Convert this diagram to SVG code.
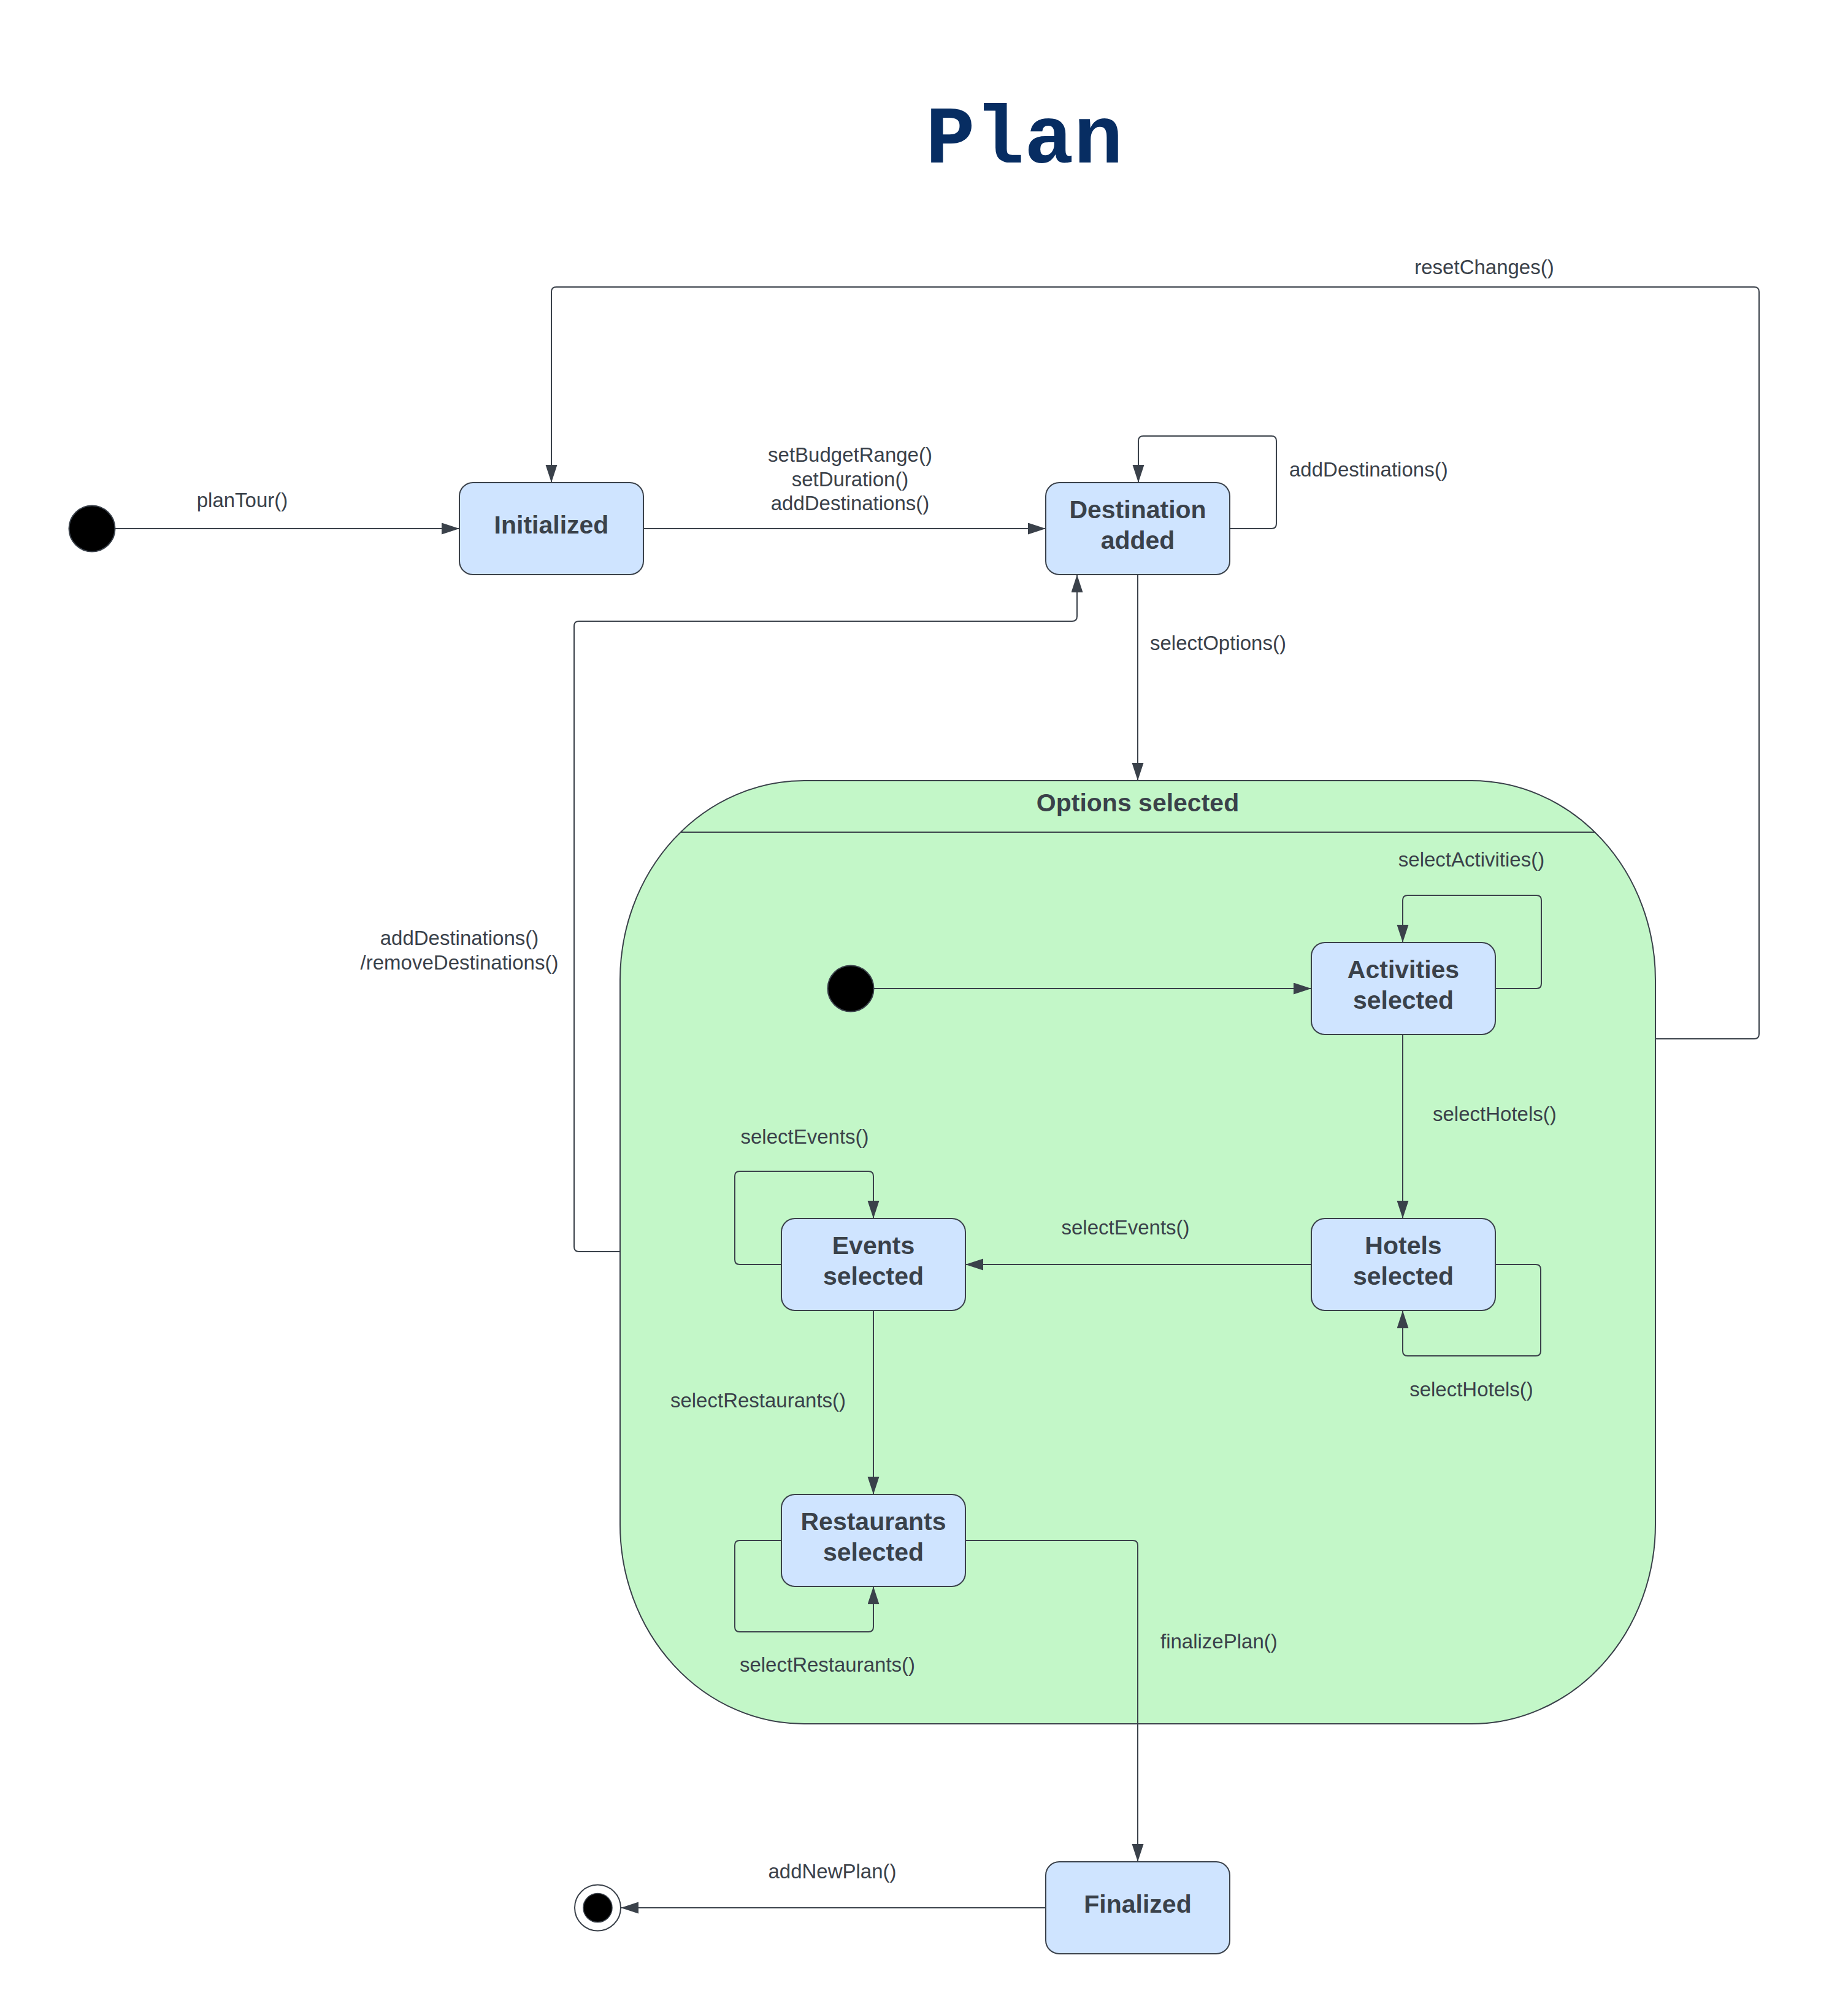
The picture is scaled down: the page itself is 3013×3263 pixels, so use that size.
<svg xmlns="http://www.w3.org/2000/svg" width="3013" height="3263" viewBox="0 0 3013 3263">
<style>
.lbl{font-family:"Liberation Sans",Arial,sans-serif;font-size:33px;fill:#3a414a}
.nt{font-family:"Liberation Sans",Arial,sans-serif;font-size:41px;font-weight:bold;fill:#3a414a;text-anchor:middle}
.st{fill:#cfe4ff;stroke:#3a414a;stroke-width:2}
.cn{fill:none;stroke:#3a414a;stroke-width:2;marker-end:url(#ah)}
.c{text-anchor:middle}
</style>
<defs>
<marker id="ah" markerUnits="userSpaceOnUse" markerWidth="30" markerHeight="20" refX="29" refY="9.5" orient="auto" viewBox="0 0 30 20">
<path d="M0,0 L29,9.5 L0,19 z" fill="#3a414a"/>
</marker>
</defs>
<rect width="3013" height="3263" fill="#ffffff"/>
<text x="1670" y="265" font-family="'Liberation Mono',monospace" font-weight="bold" font-size="134" fill="#072d62" text-anchor="middle">Plan</text>

<g id="options-selected">
<rect x="1011" y="1273" width="1688" height="1538" rx="300" ry="325" fill="#c3f7c8" stroke="#3a414a" stroke-width="2"/>
<line x1="1110" y1="1357" x2="2600" y2="1357" stroke="#3a414a" stroke-width="2"/>
<text class="nt" x="1855" y="1323">Options selected</text>
</g>

<g id="connectors">
<path class="cn" d="M188,862 L749,862"/>
<path class="cn" d="M1050,862 L1705,862"/>
<path class="cn" d="M2005,862 L2073,862 Q2081,862 2081,854 L2081,719 Q2081,711 2073,711 L1864,711 Q1856,711 1856,719 L1856,787"/>
<path class="cn" d="M1855,937 L1855,1273"/>
<path class="cn" d="M2699,1694 L2860,1694 Q2868,1694 2868,1686 L2868,476 Q2868,468 2860,468 L907,468 Q899,468 899,476 L899,787"/>
<path class="cn" d="M1011,2041 L944,2041 Q936,2041 936,2033 L936,1021 Q936,1013 944,1013 L1748,1013 Q1756,1013 1756,1005 L1756,937"/>
<path class="cn" d="M1425,1612 L2138,1612"/>
<path class="cn" d="M2437,1612 L2505,1612 Q2513,1612 2513,1604 L2513,1468 Q2513,1460 2505,1460 L2295,1460 Q2287,1460 2287,1468 L2287,1537"/>
<path class="cn" d="M2287,1687 L2287,1987"/>
<path class="cn" d="M2437,2062 L2504,2062 Q2512,2062 2512,2070 L2512,2203 Q2512,2211 2504,2211 L2295,2211 Q2287,2211 2287,2203 L2287,2137"/>
<path class="cn" d="M2138,2062 L1574,2062"/>
<path class="cn" d="M1274,2062 L1206,2062 Q1198,2062 1198,2054 L1198,1918 Q1198,1910 1206,1910 L1416,1910 Q1424,1910 1424,1918 L1424,1987"/>
<path class="cn" d="M1424,2137 L1424,2437"/>
<path class="cn" d="M1274,2512 L1206,2512 Q1198,2512 1198,2520 L1198,2653 Q1198,2661 1206,2661 L1416,2661 Q1424,2661 1424,2653 L1424,2587"/>
<path class="cn" d="M1575,2512 L1847,2512 Q1855,2512 1855,2520 L1855,3036"/>
<path class="cn" d="M1705,3111 L1012,3111"/>

<text class="lbl c" x="395" y="827">planTour()</text>
<text class="lbl c" x="1386" y="753">setBudgetRange()</text>
<text class="lbl c" x="1386" y="793">setDuration()</text>
<text class="lbl c" x="1386" y="832">addDestinations()</text>
<text class="lbl" x="2102" y="777">addDestinations()</text>
<text class="lbl" x="1875" y="1060">selectOptions()</text>
<text class="lbl c" x="2420" y="447">resetChanges()</text>
<text class="lbl c" x="749" y="1541">addDestinations()</text>
<text class="lbl c" x="749" y="1581">/removeDestinations()</text>
<text class="lbl c" x="2399" y="1413">selectActivities()</text>
<text class="lbl" x="2336" y="1828">selectHotels()</text>
<text class="lbl c" x="2399" y="2277">selectHotels()</text>
<text class="lbl c" x="1835" y="2013">selectEvents()</text>
<text class="lbl c" x="1312" y="1865">selectEvents()</text>
<text class="lbl c" x="1236" y="2295">selectRestaurants()</text>
<text class="lbl c" x="1349" y="2726">selectRestaurants()</text>
<text class="lbl" x="1892" y="2688">finalizePlan()</text>
<text class="lbl c" x="1357" y="3063">addNewPlan()</text>
</g>

<g id="initial">
<circle cx="150" cy="862" r="37.5" fill="#000000" stroke="#3a414a" stroke-width="2"/>
</g>
<g id="initialized">
<rect class="st" x="749" y="787" width="300" height="150" rx="22"/>
<text class="nt" x="899" y="870">Initialized</text>
</g>
<g id="destination-added">
<rect class="st" x="1705" y="787" width="300" height="150" rx="22"/>
<text class="nt" x="1855" y="845">Destination</text>
<text class="nt" x="1855" y="895">added</text>
</g>
<g id="inner-initial">
<circle cx="1387" cy="1612" r="37.5" fill="#000000" stroke="#3a414a" stroke-width="2"/>
</g>
<g id="activities-selected">
<rect class="st" x="2138" y="1537" width="300" height="150" rx="22"/>
<text class="nt" x="2288" y="1595">Activities</text>
<text class="nt" x="2288" y="1645">selected</text>
</g>
<g id="hotels-selected">
<rect class="st" x="2138" y="1987" width="300" height="150" rx="22"/>
<text class="nt" x="2288" y="2045">Hotels</text>
<text class="nt" x="2288" y="2095">selected</text>
</g>
<g id="events-selected">
<rect class="st" x="1274" y="1987" width="300" height="150" rx="22"/>
<text class="nt" x="1424" y="2045">Events</text>
<text class="nt" x="1424" y="2095">selected</text>
</g>
<g id="restaurants-selected">
<rect class="st" x="1274" y="2437" width="300" height="150" rx="22"/>
<text class="nt" x="1424" y="2495">Restaurants</text>
<text class="nt" x="1424" y="2545">selected</text>
</g>
<g id="finalized">
<rect class="st" x="1705" y="3036" width="300" height="150" rx="22"/>
<text class="nt" x="1855" y="3119">Finalized</text>
</g>
<g id="final">
<circle cx="974.5" cy="3111" r="37.5" fill="#ffffff" stroke="#3a414a" stroke-width="2"/>
<circle cx="974.5" cy="3111" r="23.5" fill="#000000" stroke="#3a414a" stroke-width="1.5"/>
</g>
</svg>
